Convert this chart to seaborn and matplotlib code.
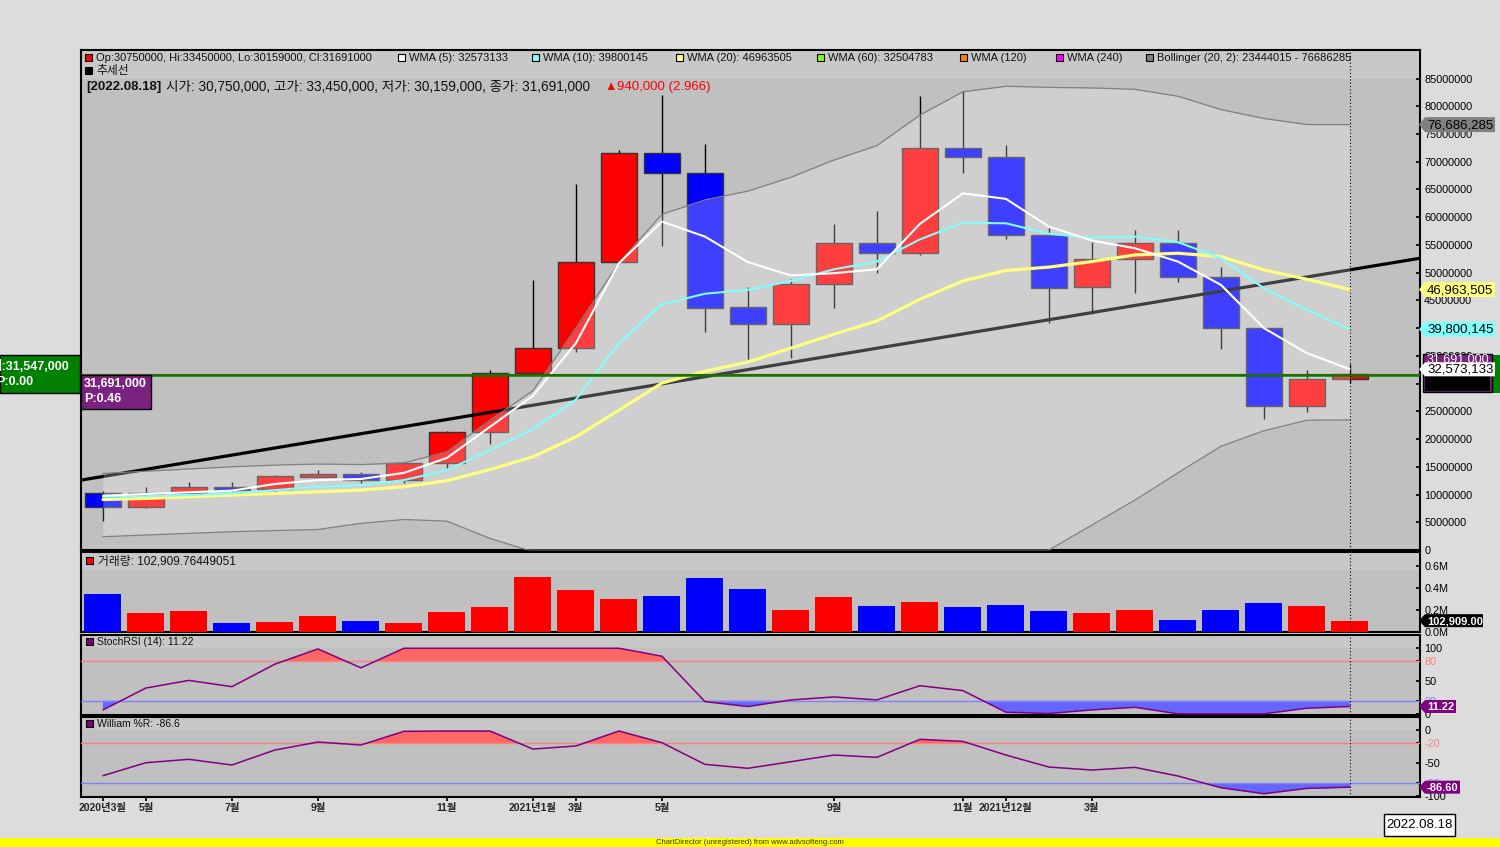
import matplotlib
matplotlib.use('Agg')
import matplotlib.pyplot as plt
from matplotlib.patches import Rectangle, Polygon
import numpy as np
import seaborn as sns

# monthly candles 2020-03 .. 2022-08, prices in millions
opens = [10.33, 7.70, 10.33, 11.30, 10.94, 13.20, 13.70, 12.56, 15.60, 21.20,
         31.96, 36.36, 51.87, 71.50, 67.90, 43.75, 40.70, 47.90, 55.30, 53.50,
         72.40, 70.80, 56.70, 47.40, 52.40, 55.30, 49.30, 40.00, 25.96, 30.75]
highs = [10.70, 11.30, 12.26, 12.26, 13.50, 14.40, 14.06, 15.70, 21.50, 32.45,
         48.70, 66.00, 72.05, 82.00, 73.20, 47.50, 48.80, 58.80, 61.10, 81.85,
         82.75, 73.00, 58.00, 55.50, 57.70, 57.70, 51.00, 40.00, 32.45, 33.45]
lows = [5.28, 7.50, 10.30, 10.50, 10.45, 13.10, 12.00, 12.10, 14.80, 19.10,
        31.50, 35.75, 51.50, 54.86, 39.25, 34.40, 34.70, 43.70, 49.90, 53.20,
        68.00, 56.00, 40.90, 42.50, 46.40, 48.30, 36.30, 23.70, 24.90, 30.159]
closes = [7.70, 10.33, 11.30, 10.87, 13.34, 13.70, 12.56, 15.60, 21.20, 31.96,
          36.36, 51.87, 71.50, 67.90, 43.70, 40.70, 47.90, 55.30, 53.50, 72.40,
          70.80, 56.70, 47.20, 52.40, 55.30, 49.30, 40.00, 25.96, 30.77, 31.691]

wma5 = [9.8, 10.1, 10.4, 10.7, 11.9, 12.6, 12.8, 13.9, 16.6, 22.2,
        27.8, 37.3, 51.7, 59.2, 56.5, 51.9, 49.5, 49.9, 50.6, 58.8,
        64.3, 63.3, 58.3, 55.8, 54.4, 52.0, 47.8, 40.0, 35.5, 32.573]
wma10 = [9.6, 9.7, 9.9, 10.2, 10.8, 11.4, 11.7, 12.6, 14.4, 18.0,
         21.8, 27.1, 37.3, 44.3, 46.2, 46.9, 48.5, 50.6, 52.0, 56.0,
         59.0, 58.9, 57.0, 56.3, 56.5, 55.5, 52.6, 47.2, 43.3, 39.8]
wma20 = [9.1, 9.3, 9.6, 9.9, 10.2, 10.5, 10.8, 11.4, 12.5, 14.5,
         16.8, 20.4, 25.2, 30.1, 32.2, 33.9, 36.4, 38.9, 41.3, 45.2,
         48.5, 50.4, 51.0, 52.0, 53.2, 53.5, 52.9, 50.5, 48.8, 46.96]
bb_upper = [13.8, 14.2, 14.6, 15.0, 15.3, 15.5, 15.4, 15.7, 17.7, 23.4,
            28.7, 40.0, 51.8, 60.5, 63.1, 64.7, 67.2, 70.3, 72.9, 78.4,
            82.6, 83.6, 83.4, 83.3, 83.05, 81.8, 79.4, 77.8, 76.7, 76.686]
bb_lower = [2.4, 2.7, 3.0, 3.3, 3.5, 3.7, 4.8, 5.5, 5.2, 2.1,
            -0.3, -8.0, -14.0, -17.0, -16.0, -15.0, -14.0, -13.0, -12.0, -13.0,
            -12.0, -9.0, 0.0, 4.5, 9.0, 13.9, 18.7, 21.5, 23.4, 23.444]
trend_x = [-0.51, 30.63]
trend_y = [12.6, 52.6]

volume = [0.348, 0.175, 0.19, 0.085, 0.094, 0.148, 0.103, 0.085, 0.185, 0.23,
          0.503, 0.385, 0.303, 0.33, 0.494, 0.394, 0.203, 0.321, 0.239, 0.275,
          0.23, 0.248, 0.194, 0.175, 0.203, 0.112, 0.203, 0.266, 0.239, 0.103]
stoch_rsi = [6, 39.4, 51, 41.4, 75.8, 99, 70.2, 100, 100, 100,
             100, 100, 100, 87.9, 18.7, 11.1, 21.2, 25.8, 21.2, 42.9,
             35.4, 2.5, 0.5, 6, 10, 0, 0, 0, 8.6, 11.22]
williams_r = [-69.2, -49.5, -44.4, -53, -30.3, -18.2, -22.7, -2, -1.5, -1.5,
              -28.8, -24.2, -1.5, -19.2, -52, -58, -48, -37.9, -41.4, -14.1,
              -17.2, -37.9, -56.1, -60.6, -56.6, -69.7, -87.4, -96.5, -88.4, -86.6]

tick_pos = [0, 1, 3, 5, 8, 10, 11, 13, 17, 20, 21, 23]
tick_labels = ['2020년3월', '5월', '7월', '9월', '11월', '2021년1월', '3월', '5월',
               '9월', '11월', '2021년12월', '3월']

sns.set_theme(style='white')
plt.rcParams['font.family'] = ['Liberation Sans', 'Noto Sans CJK KR', 'DejaVu Sans']

W, H = 1500, 847
fig = plt.figure(figsize=(W / 100, H / 100), dpi=100, facecolor='#dcdcdc')

x = np.arange(len(opens))
o, c = np.array(opens), np.array(closes)
col = np.where(c >= o, '#ff0000', '#0000ff')


def panel(top, bottom):
    ax = fig.add_axes([81 / W, 1 - bottom / H, 1339 / W, (bottom - top) / H])
    ax.set_facecolor('#c0c0c0')
    ax.set_xlim(-0.51, 30.63)
    for s in ax.spines.values():
        s.set_color('black')
        s.set_linewidth(1.5)
    ax.yaxis.tick_right()
    ax.tick_params(axis='y', right=True, direction='in', length=3, pad=3,
                   labelsize=7.8, colors='black')
    ax.tick_params(axis='x', bottom=False, labelbottom=False)
    ax.axvline(29, color='black', lw=0.8, ls=(0, (1, 2)), zorder=8)
    return ax


# PRICE PANEL
ax = panel(50, 550)
ax.set_ylim(0, 90.14)
ax.axhspan(85, 90.14, color='#c8c8c8', lw=0, zorder=0)
ax.vlines(x, lows, highs, color='black', lw=1, zorder=2)
ax.bar(x, np.abs(c - o), bottom=np.minimum(o, c), width=0.84, color=col,
       edgecolor='#333333', lw=1, zorder=3)
ax.plot(trend_x, trend_y, color='black', lw=2.3, zorder=3.5, solid_capstyle='butt')
ax.fill_between(x, bb_lower, bb_upper, color='white', alpha=0.25, lw=0, zorder=4)
sns.lineplot(x=x, y=bb_upper, ax=ax, color='#808080', lw=0.9, zorder=5)
sns.lineplot(x=x, y=bb_lower, ax=ax, color='#808080', lw=0.9, zorder=5)
sns.lineplot(x=x, y=wma20, ax=ax, color='#ffff80', lw=2.3, zorder=6)
sns.lineplot(x=x, y=wma10, ax=ax, color='#80ffff', lw=1.5, zorder=6)
sns.lineplot(x=x, y=wma5, ax=ax, color='white', lw=1.5, zorder=6)
ax.axhline(31.691, color='red', lw=0.8, zorder=7)
ax.axhline(31.547, color='green', lw=1.8, zorder=7)
yt = np.arange(0, 86, 5)
ax.set_yticks(yt)
ax.set_yticklabels([str(int(v * 1000000)) for v in yt])

# VOLUME PANEL
axv = panel(552, 632)
axv.set_ylim(0, 0.727)
axv.axhspan(0.564, 0.727, color='#c8c8c8', lw=0, zorder=0)
axv.bar(x, volume, width=0.86, color=col, lw=0, zorder=3)
axv.set_yticks([0, 0.2, 0.4, 0.6])
axv.set_yticklabels(['0.0M', '0.2M', '0.4M', '0.6M'])

# STOCH RSI PANEL
axs = panel(634.5, 714.5)
axs.set_ylim(-1, 121)
axs.axhspan(100, 121, color='#c8c8c8', lw=0, zorder=0)
sr = np.array(stoch_rsi, dtype=float)
axs.fill_between(x, sr, 80, where=sr >= 80, interpolate=True, color='#ff6666', lw=0, zorder=2)
axs.fill_between(x, sr, 20, where=sr <= 20, interpolate=True, color='#6666ff', lw=0, zorder=2)
axs.axhline(80, color='#ff8080', lw=1, zorder=3)
axs.axhline(20, color='#8080ff', lw=1, zorder=3)
sns.lineplot(x=x, y=sr, ax=axs, color='#800080', lw=1.1, zorder=4)
axs.set_yticks([100, 80, 50, 20, 0])
axs.set_yticklabels(['100', '80', '50', '20', '0'])

# WILLIAMS %R PANEL
axw = panel(716.5, 797)
axw.set_ylim(-101.5, 20.5)
axw.axhspan(0, 20.5, color='#c8c8c8', lw=0, zorder=0)
wr = np.array(williams_r, dtype=float)
axw.fill_between(x, wr, -20, where=wr >= -20, interpolate=True, color='#ff6666', lw=0, zorder=2)
axw.fill_between(x, wr, -80, where=wr <= -80, interpolate=True, color='#6666ff', lw=0, zorder=2)
axw.axhline(-20, color='#ff8080', lw=1, zorder=3)
axw.axhline(-80, color='#8080ff', lw=1, zorder=3)
sns.lineplot(x=x, y=wr, ax=axw, color='#800080', lw=1.1, zorder=4)
axw.set_yticks([0, -20, -50, -80, -100])
axw.set_yticklabels(['0', '-20', '-50', '-80', '-100'])
axw.set_xticks(tick_pos)
axw.set_xticklabels(tick_labels, fontsize=7.5, fontweight='bold')
axw.tick_params(axis='x', bottom=True, labelbottom=True, direction='out',
                length=3, pad=1, color='black')

for a, lo, hi in [(axs, '80', '20'), (axw, '-20', '-80')]:
    for t in a.get_yticklabels():
        if t.get_text() == lo:
            t.set_color('#ff8080')
        elif t.get_text() == hi:
            t.set_color('#8080ff')

# OVERLAY: legends, value tags, boxes
ov = fig.add_axes([0, 0, 1, 1], zorder=20)
ov.set_xlim(0, W)
ov.set_ylim(H, 0)
ov.axis('off')


def ypx(a, v):
    return H - a.transData.transform((0, v))[1]


def tag(yp, txt, fc, tc, w=70, fs=9.5, weight='normal', h=15):
    ov.add_patch(Polygon([[1419, yp], [1425, yp - h / 2], [1425 + w, yp - h / 2],
                          [1425 + w, yp + h / 2], [1425, yp + h / 2]],
                         closed=True, fc=fc, ec='none', zorder=5))
    ov.text(1427, yp + 0.5, txt, fontsize=fs, color=tc, va='center', ha='left',
            weight=weight, zorder=6)


def square(x0, y0, fc):
    ov.add_patch(Rectangle((x0, y0), 7, 7, fc=fc, ec='black', lw=0.8))


legend_items = [
    (85, '#ff0000', 'Op:30750000, Hi:33450000, Lo:30159000, Cl:31691000'),
    (398, 'white', 'WMA (5): 32573133'),
    (532, '#80ffff', 'WMA (10): 39800145'),
    (676, '#ffff80', 'WMA (20): 46963505'),
    (817, '#80ff00', 'WMA (60): 32504783'),
    (960, '#ff8000', 'WMA (120)'),
    (1056, '#ff00ff', 'WMA (240)'),
    (1146, '#808080', 'Bollinger (20, 2): 23444015 - 76686285'),
]
for lx, lc, lt in legend_items:
    square(lx, 54, lc)
    ov.text(lx + 11, 58, lt, fontsize=8, va='center', ha='left', color='#111111')
square(85, 67.5, 'black')
ov.text(96, 71, '추세선', fontsize=8.5, va='center', ha='left', color='#111111')
ov.text(86, 87, '[2022.08.18]', fontsize=9.5, weight='bold', va='center', ha='left', color='#111111')
ov.text(166, 87, '시가: 30,750,000, 고가: 33,450,000, 저가: 30,159,000, 종가: 31,691,000',
        fontsize=9.8, va='center', ha='left', color='#111111')
ov.text(604, 87, '▲', fontsize=9, va='center', ha='left', color='#ff0000')
ov.text(617, 87, '940,000 (2.966)', fontsize=9.5, va='center', ha='left', color='#ff0000')

# panel headers
square(86, 557, '#ff0000')
ov.text(98, 561, '거래량: 102,909.76449051', fontsize=8.5, va='center', ha='left', color='#111111')
square(86, 638.5, '#800080')
ov.text(97, 642, 'StochRSI (14): 11.22', fontsize=7.5, va='center', ha='left', color='#111111')
square(86, 720.5, '#800080')
ov.text(97, 724, 'William %R: -86.6', fontsize=7.5, va='center', ha='left', color='#111111')

# right value tags
tag(ypx(ax, bb_upper[-1]), '76,686,285', '#808080', 'black')
tag(ypx(ax, wma20[-1]), '46,963,505', '#ffff80', 'black')
tag(ypx(ax, wma10[-1]), '39,800,145', '#80ffff', 'black')
ov.add_patch(Rectangle((1490, 355), 10, 38, fc='#008000', ec='none', zorder=3))
ov.add_patch(Rectangle((1423, 354), 69, 38, fc='#7b2281', ec='black', lw=1, zorder=3))
ov.text(1427, 360, '31,691,000', fontsize=9, color='white', va='center', ha='left', zorder=3.5)
ov.add_patch(Rectangle((1425, 376), 65, 15, fc='black', ec='none', zorder=4))
tag(ypx(ax, wma5[-1]), '32,573,133', 'white', 'black', h=14)
tag(ypx(axv, volume[-1]), '102,909.00', 'black', 'white', w=58, fs=8, weight='bold', h=13)
tag(ypx(axs, stoch_rsi[-1]), '11.22', '#800080', 'white', w=31, fs=8, weight='bold', h=13)
tag(ypx(axw, williams_r[-1]), '-86.60', '#800080', 'white', w=35, fs=8, weight='bold', h=13)

# left boxes
ov.add_patch(Rectangle((0, 355), 80, 38, fc='#008000', ec='black', lw=1))
ov.text(-9, 366, '시:31,547,000', fontsize=9, weight='bold', color='white', va='center', ha='left')
ov.text(-4, 382, 'P:0.00', fontsize=9, weight='bold', color='white', va='center', ha='left')
ov.add_patch(Rectangle((81, 375), 70, 34, fc='#7b2281', ec='black', lw=1))
ov.text(84, 384, '31,691,000', fontsize=9, weight='bold', color='white', va='center', ha='left')
ov.text(84, 399, 'P:0.46', fontsize=9, weight='bold', color='white', va='center', ha='left')

# date box and footer
ov.add_patch(Rectangle((1384, 814), 71, 22, fc='white', ec='black', lw=1))
ov.text(1419.5, 825, '2022.08.18', fontsize=9.5, color='black', va='center', ha='center')
ov.add_patch(Rectangle((0, 838), W, 9, fc='#ffff00', ec='none'))
ov.text(750, 842.5, 'ChartDirector (unregistered) from www.advsofteng.com', fontsize=5.5,
        color='#333333', va='center', ha='center')

fig.savefig('out.png', dpi=100, facecolor=fig.get_facecolor())
